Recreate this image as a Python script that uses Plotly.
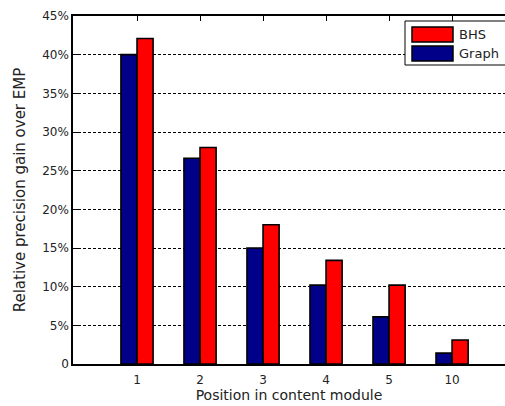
import plotly.graph_objects as go

categories = ["1", "2", "3", "4", "5", "10"]
bhs = [42.1, 28.0, 18.0, 13.4, 10.2, 3.1]
graph = [40.0, 26.6, 15.0, 10.2, 6.1, 1.4]
ytick_vals = [0, 5, 10, 15, 20, 25, 30, 35, 40, 45]
ytick_text = ["0", "5%", "10%", "15%", "20%", "25%", "30%", "35%", "40%", "45%"]

W, H = 505, 406
L, R, T, B = 73, 0, 16, 42
PW, PH = W - L - R, H - T - B

def px(x):
    return (x - L) / PW

def py(y):
    return (H - B - y) / PH

FONT = "DejaVu Sans"
TXT = "#222222"

fig = go.Figure()
fig.add_trace(go.Bar(x=categories, y=graph, name="Graph",
                     marker=dict(color="#000088", line=dict(color="black", width=1.6))))
fig.add_trace(go.Bar(x=categories, y=bhs, name="BHS",
                     marker=dict(color="#FF0000", line=dict(color="black", width=1.6))))

shapes = [
    dict(type="rect", xref="paper", yref="paper", x0=px(405), x1=px(510), y0=py(21), y1=py(65),
         fillcolor="white", line=dict(color="black", width=1)),
    dict(type="rect", xref="paper", yref="paper", x0=px(412), x1=px(453), y0=py(27), y1=py(42),
         fillcolor="#FF0000", line=dict(color="black", width=1.5)),
    dict(type="rect", xref="paper", yref="paper", x0=px(412), x1=px(453), y0=py(46), y1=py(61),
         fillcolor="#000088", line=dict(color="black", width=1.5)),
]
annotations = [
    dict(xref="paper", yref="paper", x=px(457), y=py(34.5), text="BHS", showarrow=False,
         xanchor="left", yanchor="middle", font=dict(family=FONT, size=13, color=TXT)),
    dict(xref="paper", yref="paper", x=px(457), y=py(53.5), text="Graph", showarrow=False,
         xanchor="left", yanchor="middle", font=dict(family=FONT, size=13, color=TXT)),
]

fig.update_layout(
    width=W, height=H,
    margin=dict(l=L, r=R, t=T, b=B),
    paper_bgcolor="white", plot_bgcolor="white",
    barmode="group", bargap=0.49, bargroupgap=0,
    showlegend=False,
    font=dict(family=FONT, size=12, color=TXT),
    shapes=shapes, annotations=annotations,
    xaxis=dict(
        type="category", range=[-1.016, 5.84],
        showline=True, linecolor="black", linewidth=1.5, mirror="ticks",
        ticks="inside", ticklen=5, tickcolor="black", tickwidth=1,
        showgrid=False, zeroline=False, ticklabelstandoff=4,
        tickfont=dict(family=FONT, size=12, color=TXT),
        title=dict(text="Position in content module", font=dict(family=FONT, size=14, color=TXT), standoff=4),
    ),
    yaxis=dict(
        range=[0, 45], tickvals=ytick_vals, ticktext=ytick_text,
        showline=True, linecolor="black", linewidth=1.5, mirror=False,
        ticks="inside", ticklen=5, tickcolor="black",
        showgrid=True, gridcolor="black", gridwidth=1, griddash="3px,2px",
        zeroline=False,
        tickfont=dict(family=FONT, size=12, color=TXT),
        title=dict(text="Relative precision gain over EMP", font=dict(family=FONT, size=15, color=TXT), standoff=13),
    ),
)

fig.write_html("out.html", config={"displayModeBar": False},
               post_script="document.body.style.margin='0';document.body.style.overflow='hidden';")
